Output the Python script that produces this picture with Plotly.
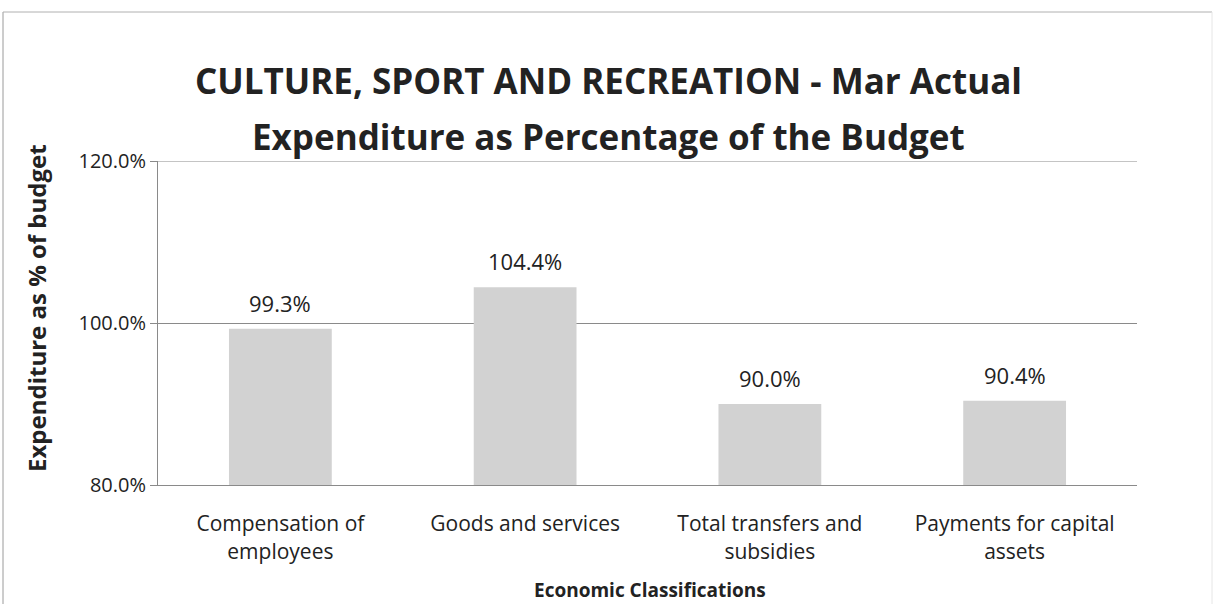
import plotly.graph_objects as go

categories = ["Compensation of<br>employees", "Goods and services",
              "Total transfers and<br>subsidies", "Payments for capital<br>assets"]
values = [99.3, 104.4, 90.0, 90.4]
y_ticks = [80, 100, 120]
y_tick_text = ["80.0%", "100.0%", "120.0%"]
title_lines = ["CULTURE, SPORT AND RECREATION - Mar Actual",
               "Expenditure as Percentage of the Budget"]
x_title = "Economic Classifications"
y_title = "Expenditure as % of budget"

FONT = "Open Sans, Noto Sans, DejaVu Sans, sans-serif"
GRID = "#8a8a8a"
TXT = "#222222"

W, H = 1216, 604
ML, MR, MT, MB = 158, 79, 161, 119

fig = go.Figure()
fig.add_trace(go.Bar(
    x=categories, y=values,
    marker=dict(color="#d2d2d2", line=dict(width=0)),
    width=0.42,
    hoverinfo="x+y",
))

pw = W - ML - MR
ph = H - MT - MB
def px(x):
    return (x - ML) / pw
def py(y):
    return (H - MB - y) / ph

value_labels = [
    dict(text="%.1f%%" % v, xref="x", yref="y", x=c, y=v, yshift=26,
         xanchor="center", yanchor="middle", showarrow=False,
         font=dict(size=22, family=FONT, color=TXT))
    for c, v in zip(categories, values)
]

fig.update_layout(
    width=W, height=H,
    margin=dict(l=ML, r=MR, t=MT, b=MB, autoexpand=False),
    paper_bgcolor="white", plot_bgcolor="white",
    showlegend=False,
    font=dict(family=FONT, color=TXT),
    xaxis=dict(
        automargin=False,
        showgrid=False, showline=True, linecolor=GRID, linewidth=1, ticks="",
        ticklabelstandoff=20,
        tickfont=dict(size=21, family=FONT, color=TXT),
    ),
    yaxis=dict(
        automargin=False,
        range=[80, 120], tickvals=y_ticks, ticktext=y_tick_text,
        showgrid=True, gridcolor=GRID, gridwidth=1,
        showline=True, linecolor=GRID, linewidth=1,
        zeroline=False, ticks="outside", ticklen=7, tickcolor=GRID,
        tickfont=dict(size=20, family=FONT, color=TXT),
    ),
    annotations=value_labels + [
        dict(text="<b>%s</b>" % title_lines[0],
             xref="paper", yref="paper", x=px(608), y=py(80), xanchor="center", yanchor="middle",
             showarrow=False, font=dict(size=35, family=FONT, color=TXT)),
        dict(text="<b>%s</b>" % title_lines[1],
             xref="paper", yref="paper", x=px(608), y=py(137), xanchor="center", yanchor="middle",
             showarrow=False, font=dict(size=35, family=FONT, color=TXT)),
        dict(text="<b>%s</b>" % x_title,
             xref="paper", yref="paper", x=px(650), y=py(590), xanchor="center", yanchor="middle",
             showarrow=False, font=dict(size=19, family=FONT, color=TXT)),
        dict(text="<b>%s</b>" % y_title, textangle=-90,
             xref="paper", yref="paper", x=px(36), y=py(308), xanchor="center", yanchor="middle",
             showarrow=False, font=dict(size=24, family=FONT, color=TXT)),
    ],
    shapes=[
        dict(type="line", xref="paper", yref="y", x0=0, x1=1, y0=y_ticks[-1], y1=y_ticks[-1],
             line=dict(color=GRID, width=1)),
        dict(type="line", xref="paper", yref="paper", x0=px(3), x1=px(3), y0=py(12), y1=py(H),
             line=dict(color="#9a9a9a", width=1)),
        dict(type="line", xref="paper", yref="paper", x0=px(3), x1=px(1212), y0=py(12), y1=py(12),
             line=dict(color="#b0b0b0", width=1)),
        dict(type="line", xref="paper", yref="paper", x0=px(1212), x1=px(1212), y0=py(12), y1=py(H),
             line=dict(color="#e6e6e6", width=1)),
    ],
)

fig.write_html("out.html")
